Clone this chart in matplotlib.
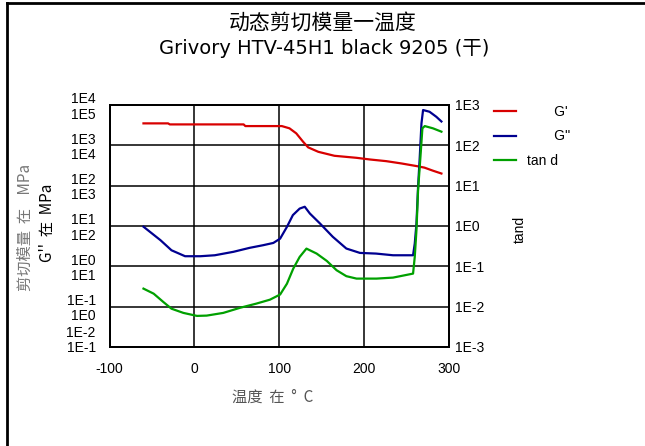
import matplotlib
matplotlib.use('Agg')
import matplotlib.pyplot as plt
from matplotlib.lines import Line2D
from matplotlib.ticker import NullLocator
from matplotlib.transforms import ScaledTranslation

plt.rcParams['font.family'] = ['Liberation Sans', 'Noto Sans CJK SC', 'DejaVu Sans']

# data (temperature in C)
temp_g1 = [-60, -31, -29, 58, 60, 103, 112, 120, 128, 134, 146, 165, 191, 207, 226, 244, 262, 271, 281, 291]
g_storage = [3500, 3500, 3300, 3300, 3000, 3000, 2640, 1980, 1230, 890, 690, 550, 490, 445, 405, 355, 305, 280, 235, 200]

temp_g2 = [-60, -40, -27, -11, 7, 24, 46, 65, 81, 93, 101, 109, 116, 124, 130, 136, 148, 163, 179, 195,
           214, 234, 257.6, 259.6, 261.6, 263.5, 265.5, 267.5, 269.4, 277, 285, 291]
g_loss = [96, 44.5, 25, 17.8, 17.8, 18.8, 22.9, 28.7, 33.4, 38, 48.6, 95, 186, 270, 300, 204, 115, 54, 27.6, 21.5,
          20.7, 18.8, 18.8, 36.7, 115, 930, 5200, 35000, 75000, 68000, 51000, 39000]

temp_tan = [-60, -48, -36.5, -27, -13, 3, 14.5, 34, 54, 73, 89, 101, 109, 116.5, 124, 132, 144, 156, 167.5, 179,
            191, 214.5, 234, 257.6, 259.6, 261.6, 263.5, 266.3, 268.6, 271.4, 281, 291]
tan_d = [0.028, 0.021, 0.013, 0.0089, 0.0070, 0.0059, 0.0060, 0.0070, 0.0094, 0.0119, 0.0149, 0.020, 0.037, 0.088,
         0.171, 0.275, 0.207, 0.136, 0.080, 0.057, 0.0496, 0.0496, 0.0525, 0.066, 0.171, 0.787, 7.7, 52, 264, 300, 264, 218]

g1_ticks = ['1E-2', '1E-1', '1E0', '1E1', '1E2', '1E3', '1E4']
g2_ticks = ['1E-1', '1E0', '1E1', '1E2', '1E3', '1E4', '1E5']
tan_ticks = ['1E-3', '1E-2', '1E-1', '1E0', '1E1', '1E2', '1E3']
x_ticks = [-100, 0, 100, 200, 300]

cjk = ['Noto Sans CJK SC', 'DejaVu Sans']

fig = plt.figure(figsize=(6.45, 4.46), dpi=100)
ax = fig.add_axes([0.1698, 0.222, 0.5264, 0.5426])
ax2 = ax.twinx()
ax3 = ax.twinx()

l1, = ax.plot(temp_g1, g_storage, color='#d80000', lw=1.6, label="       G'")
l2, = ax2.plot(temp_g2, g_loss, color='#000090', lw=1.6, label="       G''")
l3, = ax3.plot(temp_tan, tan_d, color='#00a000', lw=1.6, label='tan d')

ax.set_xlim(-100, 300)
ax.set_yscale('log')
ax.set_ylim(1e-2, 1e4)
ax2.set_yscale('log')
ax2.set_ylim(1e-1, 1e5)
ax3.set_yscale('log')
ax3.set_ylim(1e-3, 1e3)

ax.set_xticks(x_ticks)
ax.set_xticklabels([str(t) for t in x_ticks], fontsize=10)
# left side: G' labels stacked over G'' labels at each tick
ax.set_yticks([10.0 ** i for i in range(-2, 5)])
ax.set_yticklabels([a + '\n' + b for a, b in zip(g1_ticks, g2_ticks)], fontsize=10, linespacing=1.1)
ax.yaxis.set_minor_locator(NullLocator())
ax2.set_yticks([])
ax2.yaxis.set_minor_locator(NullLocator())
ax3.set_yticks([10.0 ** i for i in range(-3, 4)])
ax3.set_yticklabels(tan_ticks, fontsize=10)
ax3.yaxis.set_minor_locator(NullLocator())

ax.tick_params(axis='x', length=0, pad=11)
ax.tick_params(axis='y', length=0, pad=10)
ax3.tick_params(axis='y', length=0, pad=4)
# bottom pair sits higher so it clears the x labels
lab0 = ax.get_yticklabels()[0]
lab0.set_transform(lab0.get_transform() + ScaledTranslation(0, 6 / 72, fig.dpi_scale_trans))

ax.grid(True, color='black', lw=1.1)
for a in (ax, ax2, ax3):
    for s in a.spines.values():
        s.set_linewidth(1.2)

fig.text(0.501, 0.948, '动态剪切模量一温度', ha='center', va='center', fontsize=15, family=cjk)
fig.text(0.503, 0.892, 'Grivory HTV-45H1 black 9205 (干)', ha='center', va='center', fontsize=14,
         family=['DejaVu Sans', 'Noto Sans CJK SC'])
fig.text(0.423, 0.11, '温度  在  °  C', ha='center', va='center', fontsize=11, color='#555555', family=cjk)
fig.text(0.039, 0.49, '剪切模量  在    MPa', rotation=90, ha='center', va='center', fontsize=11,
         color='#777777', family=cjk)
fig.text(0.074, 0.50, "G''  在  MPa", rotation=90, ha='center', va='center', fontsize=11, family=cjk)
fig.text(0.806, 0.485, 'tand', rotation=90, ha='center', va='center', fontsize=10)

fig.legend(handles=[l1, l2, l3], loc='upper left', bbox_to_anchor=(0.755, 0.78), frameon=False,
           fontsize=10, handlelength=1.6, handletextpad=0.8, labelspacing=0.75, borderpad=0)

# window frame (left and top edges)
fig.add_artist(Line2D([0.011, 0.011], [0.0, 0.994], color='black', lw=2, transform=fig.transFigure))
fig.add_artist(Line2D([0.011, 1.0], [0.994, 0.994], color='black', lw=2, transform=fig.transFigure))

fig.savefig('out.png', dpi=100)
